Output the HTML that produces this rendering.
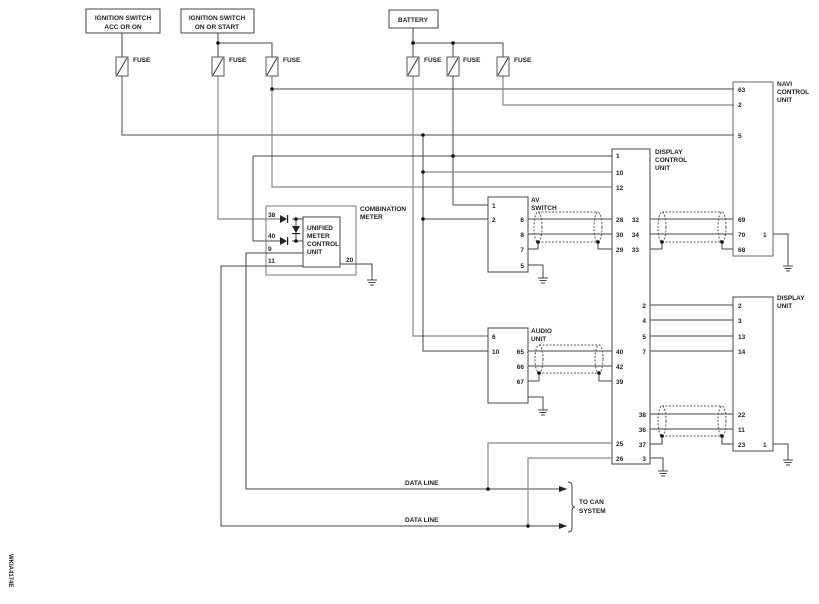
<!DOCTYPE html>
<html><head><meta charset="utf-8"><style>
html,body{margin:0;padding:0;background:#fff;}
svg{display:block;}
text{font-family:"Liberation Sans",Arial,sans-serif;font-size:6.5px;font-weight:bold;fill:#222;}
</style></head><body>
<svg width="819" height="604" viewBox="0 0 819 604" xmlns="http://www.w3.org/2000/svg">
<defs>
<g id="gnd"><line x1="0" y1="0" x2="0" y2="8" stroke="#444"/><line x1="-5" y1="8" x2="5" y2="8" stroke="#444"/><line x1="-3.5" y1="10.5" x2="3.5" y2="10.5" stroke="#444"/><line x1="-2" y1="13" x2="2" y2="13" stroke="#444"/></g>
<g id="fuse"><rect x="-6" y="0" width="12" height="19" fill="#fff" stroke="#555"/><line x1="-5" y1="18" x2="5" y2="1" stroke="#333"/></g>
<marker id="arr" markerWidth="8" markerHeight="6" refX="8" refY="3" orient="auto" markerUnits="userSpaceOnUse"><path d="M0,0 L8,3 L0,6z" fill="#222"/></marker>
</defs>
<g fill="none" stroke="#444" stroke-width="1">
<!-- top boxes -->
<rect x="86" y="9" width="74" height="24"/>
<rect x="181" y="9" width="73" height="24"/>
<rect x="389" y="10" width="49" height="18"/>
<!-- ignition wires -->
<line x1="122" y1="33" x2="122" y2="57"/>
<path d="M122 76 V135 H734" stroke="#888" stroke-width="1.5"/>
<path d="M218 33 V57 M218 43 H272 V57"/>
<path d="M218 76 V219 H280" stroke="#888" stroke-width="1.2"/>
<path d="M272 76 V187 H612" stroke="#888" stroke-width="1.2"/>
<line x1="272" y1="89" x2="734" y2="89"/>
<!-- battery -->
<path d="M413 28 V57 M413 43 H503 V57 M453 43 V57"/>
<path d="M413 76 V336 H488" stroke="#888" stroke-width="1.2"/>
<path d="M453 76 V205 H488"/>
<path d="M503 76 V105 H734" stroke="#888" stroke-width="1.2"/>
<line x1="253" y1="156" x2="612" y2="156"/>
<path d="M253 156 V241 H280"/>
<path d="M423 135 V351 H488"/>
<line x1="423" y1="172" x2="612" y2="172" stroke="#888" stroke-width="1.2"/>
<line x1="423" y1="219" x2="488" y2="219"/>
<!-- combination meter -->
<rect x="266" y="206" width="90" height="69" stroke="#777"/>
<rect x="303" y="217" width="37" height="50"/>
<path d="M292 219 H303 M292 241 H303"/>
<line x1="296" y1="219" x2="296" y2="241"/>
<path d="M303 253 H246 V489 H567" marker-end="url(#arr)"/>
<path d="M303 266 H221 V526 H567" marker-end="url(#arr)"/>
<path d="M340 264 H372 V272"/>
<!-- boxes -->
<rect x="612" y="149" width="38" height="315"/>
<rect x="733" y="82" width="40" height="174" stroke="#666"/>
<rect x="733" y="297" width="40" height="154"/>
<rect x="488" y="197" width="40" height="75"/>
<rect x="488" y="328" width="40" height="75"/>
<!-- av switch to dcu -->
<path d="M528 219 H612 M528 234 H612"/>
<path d="M528 249 H538 V242 M598 242 V249 H612"/>
<path d="M650 219 H733 M650 234 H733"/>
<path d="M650 249 H662 V242 M722 242 V249 H733"/>
<path d="M528 265 H543 V270"/>
<path d="M773 234 H788 V262"/>
<!-- audio -->
<path d="M528 351 H612 M528 366 H612"/>
<path d="M528 381 H539 V373 M599 373 V381 H612"/>
<path d="M528 397 H543 V404"/>
<!-- dcu to display -->
<path d="M650 305 H733 M650 320 H733 M650 336 H733 M650 351 H733" />
<path d="M650 414 H733 M650 429 H733" stroke="#666" stroke-width="1.2"/>
<path d="M650 444 H662 V436 M722 436 V444 H733"/>
<path d="M773 444 H788 V455"/>
<path d="M650 458 H663 V466"/>
<path d="M612 443 H488 V489" stroke="#888" stroke-width="1.2"/>
<path d="M612 458 H528 V526" stroke="#888" stroke-width="1.2"/>
<!-- brace -->
<path d="M568 482 Q572 482 572 486 V503 Q572 507 575 507 Q572 507 572 511 V528 Q572 532 568 532"/>
<!-- shields -->
<g stroke="#555" stroke-dasharray="2,1.5">
<ellipse cx="538" cy="227" rx="4" ry="15"/><ellipse cx="598" cy="227" rx="4" ry="15"/>
<path d="M538 212 H598 M538 242 H598"/>
<ellipse cx="662" cy="227" rx="4" ry="15"/><ellipse cx="722" cy="227" rx="4" ry="15"/>
<path d="M662 212 H722 M662 242 H722"/>
<ellipse cx="539" cy="359" rx="4" ry="14"/><ellipse cx="599" cy="359" rx="4" ry="14"/>
<path d="M539 345 H599 M539 373 H599"/>
<ellipse cx="662" cy="421" rx="4" ry="15"/><ellipse cx="722" cy="421" rx="4" ry="15"/>
<path d="M662 406 H722 M662 436 H722"/>
</g>
</g>
<!-- fuses -->
<use href="#fuse" x="122" y="57"/><use href="#fuse" x="218" y="57"/><use href="#fuse" x="272" y="57"/>
<use href="#fuse" x="413" y="57"/><use href="#fuse" x="453" y="57"/><use href="#fuse" x="503" y="57"/>
<!-- grounds -->
<use href="#gnd" x="372" y="272"/><use href="#gnd" x="543" y="270"/><use href="#gnd" x="788" y="258"/>
<use href="#gnd" x="543" y="402"/><use href="#gnd" x="788" y="452"/><use href="#gnd" x="663" y="463"/>
<!-- diodes -->
<g fill="#222">
<path d="M280 215 L287 219 L280 223z"/><rect x="287" y="215" width="1.2" height="8"/>
<path d="M280 237 L287 241 L280 245z"/><rect x="287" y="237" width="1.2" height="8"/>
<path d="M292 226 L300 226 L296 233z"/><rect x="292" y="233" width="8" height="1.2"/>
</g>
<!-- dots -->
<g fill="#111">
<circle cx="218" cy="43" r="1.8"/><circle cx="272" cy="89" r="1.8"/><circle cx="413" cy="43" r="1.8"/><circle cx="453" cy="43" r="1.8"/>
<circle cx="423" cy="135" r="1.8"/><circle cx="453" cy="156" r="1.8"/><circle cx="423" cy="172" r="1.8"/><circle cx="423" cy="219" r="1.8"/>
<circle cx="296" cy="219" r="1.8"/><circle cx="296" cy="241" r="1.8"/>
<circle cx="538" cy="242" r="1.8"/><circle cx="598" cy="242" r="1.8"/><circle cx="662" cy="242" r="1.8"/><circle cx="722" cy="242" r="1.8"/>
<circle cx="539" cy="373" r="1.8"/><circle cx="599" cy="373" r="1.8"/><circle cx="662" cy="436" r="1.8"/><circle cx="722" cy="436" r="1.8"/>
<circle cx="488" cy="489" r="1.8"/><circle cx="528" cy="526" r="1.8"/>
</g>
<!-- labels -->
<text x="123" y="20" text-anchor="middle">IGNITION SWITCH</text><text x="123" y="29" text-anchor="middle">ACC OR ON</text>
<text x="217" y="20" text-anchor="middle">IGNITION SWITCH</text><text x="217" y="29" text-anchor="middle">ON OR START</text>
<text x="413" y="22" text-anchor="middle">BATTERY</text>
<text x="133" y="62">FUSE</text><text x="229" y="62">FUSE</text><text x="283" y="62">FUSE</text>
<text x="424" y="62">FUSE</text><text x="463" y="62">FUSE</text><text x="514" y="62">FUSE</text>
<text x="777" y="86">NAVI</text><text x="777" y="94">CONTROL</text><text x="777" y="102">UNIT</text>
<text x="655" y="154">DISPLAY</text><text x="655" y="162">CONTROL</text><text x="655" y="170">UNIT</text>
<text x="531" y="202">AV</text><text x="531" y="210">SWITCH</text>
<text x="360" y="211">COMBINATION</text><text x="360" y="219">METER</text>
<text x="307" y="230">UNIFIED</text><text x="307" y="238">METER</text><text x="307" y="246">CONTROL</text><text x="307" y="254">UNIT</text>
<text x="268" y="217">38</text><text x="268" y="238">40</text><text x="268" y="251">9</text><text x="268" y="263">11</text><text x="346" y="262">20</text>
<text x="738" y="92">63</text><text x="738" y="107">2</text><text x="738" y="138">5</text>
<text x="738" y="222">69</text><text x="738" y="237">70</text><text x="738" y="252">68</text><text x="763" y="237">1</text>
<text x="616" y="158">1</text><text x="616" y="175">10</text><text x="616" y="190">12</text>
<text x="616" y="222">28</text><text x="616" y="237">30</text><text x="616" y="252">29</text>
<text x="639" y="222" text-anchor="end">32</text><text x="639" y="237" text-anchor="end">34</text><text x="639" y="252" text-anchor="end">33</text>
<text x="492" y="208">1</text><text x="492" y="222">2</text>
<text x="524" y="222" text-anchor="end">6</text><text x="524" y="237" text-anchor="end">8</text><text x="524" y="252" text-anchor="end">7</text><text x="524" y="268" text-anchor="end">5</text>
<text x="531" y="333">AUDIO</text><text x="531" y="341">UNIT</text>
<text x="492" y="339">6</text><text x="492" y="354">10</text>
<text x="524" y="354" text-anchor="end">65</text><text x="524" y="369" text-anchor="end">66</text><text x="524" y="384" text-anchor="end">67</text>
<text x="616" y="354">40</text><text x="616" y="369">42</text><text x="616" y="384">39</text>
<text x="616" y="446">25</text><text x="616" y="461">26</text>
<text x="646" y="308" text-anchor="end">2</text><text x="646" y="323" text-anchor="end">4</text><text x="646" y="339" text-anchor="end">5</text><text x="646" y="354" text-anchor="end">7</text>
<text x="646" y="417" text-anchor="end">38</text><text x="646" y="432" text-anchor="end">36</text><text x="646" y="447" text-anchor="end">37</text><text x="646" y="461" text-anchor="end">3</text>
<text x="777" y="300">DISPLAY</text><text x="777" y="308">UNIT</text>
<text x="738" y="308">2</text><text x="738" y="323">3</text><text x="738" y="339">13</text><text x="738" y="354">14</text>
<text x="738" y="417">22</text><text x="738" y="432">11</text><text x="738" y="447">23</text><text x="763" y="447">1</text>
<text x="405" y="485">DATA LINE</text><text x="405" y="522">DATA LINE</text>
<text x="579" y="504">TO CAN</text><text x="579" y="513">SYSTEM</text>
<text x="0" y="0" transform="translate(9,554) rotate(90)" style="font-size:6px">WKIA4174E</text>
</svg>
</body></html>
